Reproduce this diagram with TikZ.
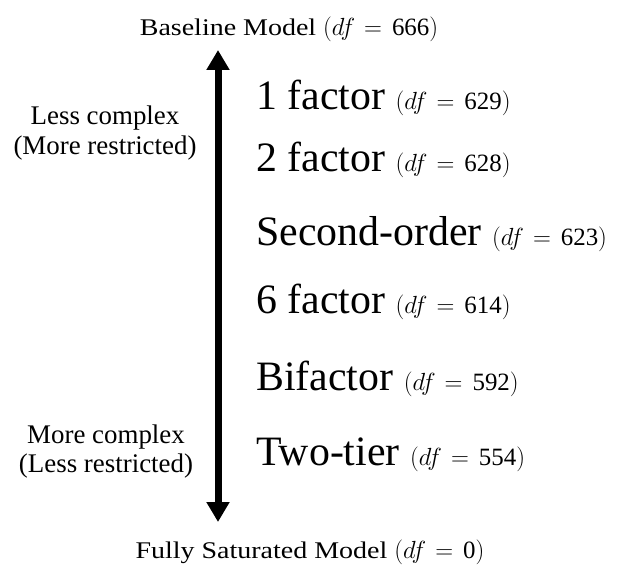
\documentclass[tikz,border=0pt]{standalone}
\usepackage{fontspec}
\setmainfont{Liberation Serif}
\newfontfamily\widefont[FakeStretch=1.17]{Liberation Serif}
\newfontfamily\tagfont{Liberation Serif}
\usetikzlibrary{arrows.meta}

% degrees-of-freedom tag printed after a label
\newcommand{\dftag}[1]{{\tagfont\fontsize{25}{25}\selectfont$(df$\hspace{9bp}$=$\hspace{10bp}#1$)$}}

\tikzset{
  endlabel/.style={anchor=base, inner sep=0pt, font=\widefont\fontsize{24}{28}\selectfont},
  sidelabel/.style={anchor=base, inner sep=0pt, font=\fontsize{27}{30}\selectfont},
  modellabel/.style={anchor=base west, inner sep=0pt, font=\fontsize{42}{44}\selectfont},
  scalearrow/.style={line width=7bp, {Triangle[width=22bp,length=20bp]}-{Triangle[width=22bp,length=20bp]}}
}

\begin{document}
\begin{tikzpicture}[x=1bp, y=-1bp]
  \useasboundingbox (0,0) rectangle (636,565);

  % ends of the complexity scale
  \node[endlabel] (base) at (289,36) {Baseline Model \dftag{666}};
  \node[endlabel] (sat)  at (310,558) {Fully Saturated Model \dftag{0}};

  \coordinate (top) at (218,50);
  \coordinate (bot) at (218,522);
  \draw[scalearrow] (bot) -- (top);

  % direction captions
  \node[sidelabel] (less) at (105,125) {Less complex};
  \node[sidelabel] (lessr) at (105,155) {(More restricted)};
  \node[sidelabel] (more) at (106,443) {More complex};
  \node[sidelabel] (morer) at (106,472) {(Less restricted)};

  % competing models, ordered by degrees of freedom
  \node[modellabel] (m1) at (256,110) {1 factor \dftag{629}};
  \node[modellabel] (m2) at (256,172) {2 factor \dftag{628}};
  \node[modellabel] (m3) at (256,245) {Second-order \dftag{623}};
  \node[modellabel] (m4) at (256,313) {6 factor \dftag{614}};
  \node[modellabel] (m5) at (256,390) {Bifactor \dftag{592}};
  \node[modellabel] (m6) at (256,465) {Two-tier \dftag{554}};
\end{tikzpicture}
\end{document}
